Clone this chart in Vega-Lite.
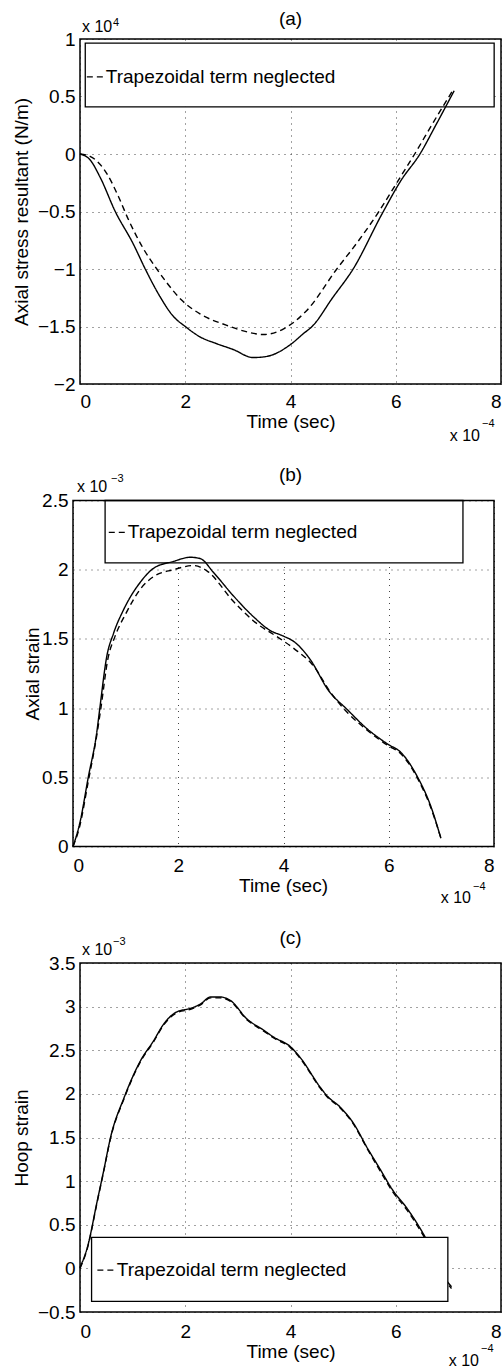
{
  "$schema": "https://vega.github.io/schema/vega-lite/v6.json",
  "background": "white",
  "padding": {"left": 12, "top": 10, "right": 0, "bottom": 0},
  "bounds": "flush",
  "spacing": 116.5,
  "config": {
    "font": "Liberation Sans",
    "view": {"stroke": null},
    "axis": {
      "labelFont": "Liberation Sans", "labelFontSize": 19, "labelColor": "#000",
      "titleFont": "Liberation Sans", "titleFontSize": 19, "titleFontWeight": "normal", "titleColor": "#000",
      "domain": false, "ticks": false, "grid": true,
      "gridColor": "#444", "gridDash": [1, 5], "gridWidth": 1, "gridOpacity": 1
    },
    "axisX": {"labelPadding": 10, "titleBaseline": "alphabetic"},
    "axisY": {"labelPadding": 5, "titleBaseline": "middle"},
    "title": {"font": "Liberation Sans", "fontSize": 19, "fontWeight": "normal", "color": "#000", "offset": -12},
    "text": {"font": "Liberation Sans", "color": "#000"},
    "line": {"interpolate": "monotone"}
  },
  "vconcat": [
    {
      "width": 421, "height": 345,
      "title": {"text": "(a)"},
      "layer": [
        {
          "data": {"values": [{"label": "Trapezoidal term neglected"}]},
          "mark": {"type": "rect", "fill": "white", "stroke": "#000", "strokeWidth": 1.3},
          "encoding": {
            "x": {"datum": 0.1, "type": "quantitative", "scale": {"domain": [0, 8], "nice": false}},
            "x2": {"datum": 7.87},
            "y": {"datum": 0.41, "type": "quantitative", "scale": {"domain": [-2, 1], "nice": false}},
            "y2": {"datum": 0.965}
          }
        },
        {
          "data": {"values": [{"label": "Trapezoidal term neglected"}]},
          "mark": {"type": "rule", "stroke": "#000", "strokeWidth": 1.3, "strokeDash": [6, 4]},
          "encoding": {"x": {"datum": 0.13}, "x2": {"datum": 0.47}, "y": {"datum": 0.67}}
        },
        {
          "data": {"values": [{"label": "Trapezoidal term neglected"}]},
          "mark": {"type": "text", "align": "left", "baseline": "middle", "fontSize": 19},
          "encoding": {"x": {"datum": 0.49}, "y": {"datum": 0.67}, "text": {"field": "label"}}
        },
        {
          "data": {"values": [
            {"series": "Full", "t": 0, "v": 0}, {"series": "Full", "t": 0.19, "v": -0.05}, {"series": "Full", "t": 0.38, "v": -0.2},
            {"series": "Full", "t": 0.67, "v": -0.5}, {"series": "Full", "t": 1.01, "v": -0.78}, {"series": "Full", "t": 1.24, "v": -1.0},
            {"series": "Full", "t": 1.52, "v": -1.24}, {"series": "Full", "t": 1.77, "v": -1.41}, {"series": "Full", "t": 2.0, "v": -1.5},
            {"series": "Full", "t": 2.28, "v": -1.59}, {"series": "Full", "t": 2.6, "v": -1.65}, {"series": "Full", "t": 2.91, "v": -1.7},
            {"series": "Full", "t": 3.29, "v": -1.77}, {"series": "Full", "t": 3.55, "v": -1.76}, {"series": "Full", "t": 3.99, "v": -1.66},
            {"series": "Full", "t": 4.25, "v": -1.56}, {"series": "Full", "t": 4.41, "v": -1.5}, {"series": "Full", "t": 4.8, "v": -1.25},
            {"series": "Full", "t": 5.19, "v": -1.0}, {"series": "Full", "t": 5.74, "v": -0.52}, {"series": "Full", "t": 6.1, "v": -0.23},
            {"series": "Full", "t": 6.46, "v": 0.0}, {"series": "Full", "t": 6.76, "v": 0.25}, {"series": "Full", "t": 7.11, "v": 0.55},
            {"series": "Trapezoidal term neglected", "t": 0, "v": 0}, {"series": "Trapezoidal term neglected", "t": 0.19, "v": -0.02},
            {"series": "Trapezoidal term neglected", "t": 0.51, "v": -0.17}, {"series": "Trapezoidal term neglected", "t": 0.73, "v": -0.37},
            {"series": "Trapezoidal term neglected", "t": 0.92, "v": -0.57}, {"series": "Trapezoidal term neglected", "t": 1.2, "v": -0.82},
            {"series": "Trapezoidal term neglected", "t": 1.46, "v": -1.0}, {"series": "Trapezoidal term neglected", "t": 1.65, "v": -1.12},
            {"series": "Trapezoidal term neglected", "t": 1.93, "v": -1.27}, {"series": "Trapezoidal term neglected", "t": 2.28, "v": -1.39},
            {"series": "Trapezoidal term neglected", "t": 2.79, "v": -1.49}, {"series": "Trapezoidal term neglected", "t": 3.2, "v": -1.55},
            {"series": "Trapezoidal term neglected", "t": 3.49, "v": -1.57}, {"series": "Trapezoidal term neglected", "t": 3.87, "v": -1.52},
            {"series": "Trapezoidal term neglected", "t": 4.31, "v": -1.36}, {"series": "Trapezoidal term neglected", "t": 4.88, "v": -1.0},
            {"series": "Trapezoidal term neglected", "t": 5.3, "v": -0.75}, {"series": "Trapezoidal term neglected", "t": 5.68, "v": -0.5},
            {"series": "Trapezoidal term neglected", "t": 6.02, "v": -0.25}, {"series": "Trapezoidal term neglected", "t": 6.36, "v": 0.0},
            {"series": "Trapezoidal term neglected", "t": 6.72, "v": 0.28}, {"series": "Trapezoidal term neglected", "t": 7.08, "v": 0.55}
          ]},
          "mark": {"type": "line", "color": "#000", "strokeWidth": 1.4},
          "encoding": {
            "x": {"field": "t", "type": "quantitative", "scale": {"domain": [0, 8], "nice": false},
                  "axis": {"values": [0, 2, 4, 6, 8], "title": "Time (sec)", "titleY": 43, "labelPadding": 8}},
            "y": {"field": "v", "type": "quantitative", "scale": {"domain": [-2, 1], "nice": false},
                  "axis": {"values": [-2, -1.5, -1, -0.5, 0, 0.5, 1], "format": "~g", "title": "Axial stress resultant (N/m)", "titleX": -59}},
            "strokeDash": {"field": "series", "type": "nominal", "scale": {"domain": ["Full", "Trapezoidal term neglected"], "range": [[1, 0], [6, 4]]}, "legend": null}
          }
        },
        {
          "data": {"values": [{"frame": "box"}]},
          "mark": {"type": "rect", "fill": null, "stroke": "#000", "strokeWidth": 1.5},
          "encoding": {"x": {"datum": 0}, "x2": {"datum": 8}, "y": {"datum": -2}, "y2": {"datum": 1}}
        },
        {
          "data": {"values": [{"s": "x 10"}]},
          "mark": {"type": "text", "align": "left", "baseline": "alphabetic", "fontSize": 16, "dx": 2, "dy": -7},
          "encoding": {"x": {"datum": 0}, "y": {"datum": 1}, "text": {"field": "s"}}
        },
        {
          "data": {"values": [{"s": "4"}]},
          "mark": {"type": "text", "align": "left", "baseline": "alphabetic", "fontSize": 11, "dx": 33, "dy": -13},
          "encoding": {"x": {"datum": 0}, "y": {"datum": 1}, "text": {"field": "s"}}
        },
        {
          "data": {"values": [{"s": "x 10"}]},
          "mark": {"type": "text", "align": "right", "baseline": "alphabetic", "fontSize": 16, "dx": -21, "dy": 57},
          "encoding": {"x": {"datum": 8}, "y": {"datum": -2}, "text": {"field": "s"}}
        },
        {
          "data": {"values": [{"s": "−4"}]},
          "mark": {"type": "text", "align": "left", "baseline": "alphabetic", "fontSize": 11, "dx": -19, "dy": 43},
          "encoding": {"x": {"datum": 8}, "y": {"datum": -2}, "text": {"field": "s"}}
        }
      ]
    },
    {
      "width": 421, "height": 346,
      "title": {"text": "(b)"},
      "layer": [
        {
          "data": {"values": [{"label": "Trapezoidal term neglected"}]},
          "mark": {"type": "rect", "fill": "white", "stroke": "#000", "strokeWidth": 1.3},
          "encoding": {
            "x": {"datum": 0.61, "type": "quantitative", "scale": {"domain": [0, 8], "nice": false, "range": [-7, 414]}},
            "x2": {"datum": 7.41},
            "y": {"datum": 2.05, "type": "quantitative", "scale": {"domain": [0, 2.5], "nice": false}},
            "y2": {"datum": 2.5}
          }
        },
        {
          "data": {"values": [{"label": "Trapezoidal term neglected"}]},
          "mark": {"type": "rule", "stroke": "#000", "strokeWidth": 1.3, "strokeDash": [6, 4]},
          "encoding": {"x": {"datum": 0.68}, "x2": {"datum": 1.02}, "y": {"datum": 2.27}}
        },
        {
          "data": {"values": [{"label": "Trapezoidal term neglected"}]},
          "mark": {"type": "text", "align": "left", "baseline": "middle", "fontSize": 19},
          "encoding": {"x": {"datum": 1.04}, "y": {"datum": 2.27}, "text": {"field": "label"}}
        },
        {
          "data": {"values": [
            {"series": "Full", "t": 0, "v": 0}, {"series": "Full", "t": 0.13, "v": 0.17}, {"series": "Full", "t": 0.29, "v": 0.5},
            {"series": "Full", "t": 0.45, "v": 0.82}, {"series": "Full", "t": 0.51, "v": 1.0}, {"series": "Full", "t": 0.64, "v": 1.37},
            {"series": "Full", "t": 0.77, "v": 1.54}, {"series": "Full", "t": 0.96, "v": 1.71}, {"series": "Full", "t": 1.28, "v": 1.91},
            {"series": "Full", "t": 1.53, "v": 2.01}, {"series": "Full", "t": 1.91, "v": 2.06}, {"series": "Full", "t": 2.23, "v": 2.09},
            {"series": "Full", "t": 2.42, "v": 2.08}, {"series": "Full", "t": 2.67, "v": 1.98}, {"series": "Full", "t": 3.05, "v": 1.81},
            {"series": "Full", "t": 3.43, "v": 1.66}, {"series": "Full", "t": 3.75, "v": 1.56}, {"series": "Full", "t": 4.0, "v": 1.52},
            {"series": "Full", "t": 4.2, "v": 1.48}, {"series": "Full", "t": 4.51, "v": 1.35}, {"series": "Full", "t": 4.85, "v": 1.13},
            {"series": "Full", "t": 5.21, "v": 0.99}, {"series": "Full", "t": 5.59, "v": 0.85}, {"series": "Full", "t": 5.98, "v": 0.74},
            {"series": "Full", "t": 6.23, "v": 0.68}, {"series": "Full", "t": 6.55, "v": 0.5}, {"series": "Full", "t": 6.8, "v": 0.29},
            {"series": "Full", "t": 6.99, "v": 0.06},
            {"series": "Trapezoidal term neglected", "t": 0, "v": 0}, {"series": "Trapezoidal term neglected", "t": 0.13, "v": 0.15},
            {"series": "Trapezoidal term neglected", "t": 0.29, "v": 0.47}, {"series": "Trapezoidal term neglected", "t": 0.45, "v": 0.8},
            {"series": "Trapezoidal term neglected", "t": 0.53, "v": 1.0}, {"series": "Trapezoidal term neglected", "t": 0.66, "v": 1.35},
            {"series": "Trapezoidal term neglected", "t": 0.8, "v": 1.52}, {"series": "Trapezoidal term neglected", "t": 1.0, "v": 1.68},
            {"series": "Trapezoidal term neglected", "t": 1.28, "v": 1.86}, {"series": "Trapezoidal term neglected", "t": 1.53, "v": 1.95},
            {"series": "Trapezoidal term neglected", "t": 1.91, "v": 2.0}, {"series": "Trapezoidal term neglected", "t": 2.29, "v": 2.03},
            {"series": "Trapezoidal term neglected", "t": 2.55, "v": 1.99}, {"series": "Trapezoidal term neglected", "t": 3.05, "v": 1.77},
            {"series": "Trapezoidal term neglected", "t": 3.43, "v": 1.63}, {"series": "Trapezoidal term neglected", "t": 3.94, "v": 1.5},
            {"series": "Trapezoidal term neglected", "t": 4.2, "v": 1.43}, {"series": "Trapezoidal term neglected", "t": 4.58, "v": 1.3},
            {"series": "Trapezoidal term neglected", "t": 4.9, "v": 1.11}, {"series": "Trapezoidal term neglected", "t": 5.21, "v": 0.97},
            {"series": "Trapezoidal term neglected", "t": 5.59, "v": 0.84}, {"series": "Trapezoidal term neglected", "t": 5.98, "v": 0.73},
            {"series": "Trapezoidal term neglected", "t": 6.23, "v": 0.67}, {"series": "Trapezoidal term neglected", "t": 6.55, "v": 0.49},
            {"series": "Trapezoidal term neglected", "t": 6.8, "v": 0.28}, {"series": "Trapezoidal term neglected", "t": 7.0, "v": 0.05}
          ]},
          "mark": {"type": "line", "color": "#000", "strokeWidth": 1.4},
          "encoding": {
            "x": {"field": "t", "type": "quantitative", "scale": {"domain": [0, 8], "nice": false, "range": [-7, 414]},
                  "axis": {"values": [0, 2, 4, 6, 8], "title": "Time (sec)", "titleY": 45, "titleX": 203}},
            "y": {"field": "v", "type": "quantitative", "scale": {"domain": [0, 2.5], "nice": false},
                  "axis": {"values": [0, 0.5, 1, 1.5, 2, 2.5], "format": "~g", "title": "Axial strain", "titleX": -41, "offset": 7}},
            "strokeDash": {"field": "series", "type": "nominal", "scale": {"domain": ["Full", "Trapezoidal term neglected"], "range": [[1, 0], [6, 4]]}, "legend": null}
          }
        },
        {
          "data": {"values": [{"frame": "box"}]},
          "mark": {"type": "rect", "fill": null, "stroke": "#000", "strokeWidth": 1.5},
          "encoding": {"x": {"datum": 0}, "x2": {"datum": 8}, "y": {"datum": 0}, "y2": {"datum": 2.5}}
        },
        {
          "data": {"values": [{"s": "x 10"}]},
          "mark": {"type": "text", "align": "left", "baseline": "alphabetic", "fontSize": 16, "dx": 4, "dy": -9},
          "encoding": {"x": {"datum": 0}, "y": {"datum": 2.5}, "text": {"field": "s"}}
        },
        {
          "data": {"values": [{"s": "−3"}]},
          "mark": {"type": "text", "align": "left", "baseline": "alphabetic", "fontSize": 11, "dx": 38, "dy": -19},
          "encoding": {"x": {"datum": 0}, "y": {"datum": 2.5}, "text": {"field": "s"}}
        },
        {
          "data": {"values": [{"s": "x 10"}]},
          "mark": {"type": "text", "align": "right", "baseline": "alphabetic", "fontSize": 16, "dx": -23, "dy": 56},
          "encoding": {"x": {"datum": 8}, "y": {"datum": 0}, "text": {"field": "s"}}
        },
        {
          "data": {"values": [{"s": "−4"}]},
          "mark": {"type": "text", "align": "left", "baseline": "alphabetic", "fontSize": 11, "dx": -21, "dy": 43},
          "encoding": {"x": {"datum": 8}, "y": {"datum": 0}, "text": {"field": "s"}}
        }
      ]
    },
    {
      "width": 421, "height": 349,
      "title": {"text": "(c)"},
      "layer": [
        {
          "data": {"values": [
            {"series": "Full", "t": 0, "v": 0.01}, {"series": "Full", "t": 0.14, "v": 0.24}, {"series": "Full", "t": 0.33, "v": 0.78},
            {"series": "Full", "t": 0.45, "v": 1.12}, {"series": "Full", "t": 0.58, "v": 1.5}, {"series": "Full", "t": 0.84, "v": 1.96},
            {"series": "Full", "t": 1.15, "v": 2.38}, {"series": "Full", "t": 1.4, "v": 2.61}, {"series": "Full", "t": 1.59, "v": 2.8},
            {"series": "Full", "t": 1.84, "v": 2.94}, {"series": "Full", "t": 2.1, "v": 2.98}, {"series": "Full", "t": 2.29, "v": 3.03},
            {"series": "Full", "t": 2.48, "v": 3.11}, {"series": "Full", "t": 2.67, "v": 3.11}, {"series": "Full", "t": 2.86, "v": 3.07},
            {"series": "Full", "t": 3.17, "v": 2.86}, {"series": "Full", "t": 3.49, "v": 2.73}, {"series": "Full", "t": 3.68, "v": 2.65},
            {"series": "Full", "t": 4.0, "v": 2.54}, {"series": "Full", "t": 4.18, "v": 2.42}, {"series": "Full", "t": 4.56, "v": 2.08},
            {"series": "Full", "t": 4.69, "v": 1.98}, {"series": "Full", "t": 4.94, "v": 1.85}, {"series": "Full", "t": 5.2, "v": 1.66},
            {"series": "Full", "t": 5.45, "v": 1.39}, {"series": "Full", "t": 5.7, "v": 1.14}, {"series": "Full", "t": 5.95, "v": 0.89},
            {"series": "Full", "t": 6.2, "v": 0.7}, {"series": "Full", "t": 6.52, "v": 0.4}, {"series": "Full", "t": 6.7, "v": 0.2},
            {"series": "Full", "t": 6.85, "v": 0.02}, {"series": "Full", "t": 6.97, "v": -0.14}, {"series": "Full", "t": 7.06, "v": -0.21},
            {"series": "Trapezoidal term neglected", "t": 0, "v": 0.0}, {"series": "Trapezoidal term neglected", "t": 0.14, "v": 0.23},
            {"series": "Trapezoidal term neglected", "t": 0.33, "v": 0.77}, {"series": "Trapezoidal term neglected", "t": 0.45, "v": 1.11},
            {"series": "Trapezoidal term neglected", "t": 0.58, "v": 1.49}, {"series": "Trapezoidal term neglected", "t": 0.84, "v": 1.95},
            {"series": "Trapezoidal term neglected", "t": 1.15, "v": 2.37}, {"series": "Trapezoidal term neglected", "t": 1.4, "v": 2.6},
            {"series": "Trapezoidal term neglected", "t": 1.59, "v": 2.79}, {"series": "Trapezoidal term neglected", "t": 1.84, "v": 2.93},
            {"series": "Trapezoidal term neglected", "t": 2.1, "v": 2.97}, {"series": "Trapezoidal term neglected", "t": 2.29, "v": 3.02},
            {"series": "Trapezoidal term neglected", "t": 2.48, "v": 3.1}, {"series": "Trapezoidal term neglected", "t": 2.67, "v": 3.1},
            {"series": "Trapezoidal term neglected", "t": 2.86, "v": 3.06}, {"series": "Trapezoidal term neglected", "t": 3.17, "v": 2.85},
            {"series": "Trapezoidal term neglected", "t": 3.49, "v": 2.72}, {"series": "Trapezoidal term neglected", "t": 3.68, "v": 2.64},
            {"series": "Trapezoidal term neglected", "t": 4.0, "v": 2.53}, {"series": "Trapezoidal term neglected", "t": 4.18, "v": 2.41},
            {"series": "Trapezoidal term neglected", "t": 4.56, "v": 2.07}, {"series": "Trapezoidal term neglected", "t": 4.69, "v": 1.97},
            {"series": "Trapezoidal term neglected", "t": 4.94, "v": 1.84}, {"series": "Trapezoidal term neglected", "t": 5.2, "v": 1.65},
            {"series": "Trapezoidal term neglected", "t": 5.45, "v": 1.38}, {"series": "Trapezoidal term neglected", "t": 5.7, "v": 1.12},
            {"series": "Trapezoidal term neglected", "t": 5.95, "v": 0.87}, {"series": "Trapezoidal term neglected", "t": 6.2, "v": 0.68},
            {"series": "Trapezoidal term neglected", "t": 6.52, "v": 0.38}, {"series": "Trapezoidal term neglected", "t": 6.7, "v": 0.18},
            {"series": "Trapezoidal term neglected", "t": 6.85, "v": 0.0}, {"series": "Trapezoidal term neglected", "t": 6.97, "v": -0.16},
            {"series": "Trapezoidal term neglected", "t": 7.06, "v": -0.23}
          ]},
          "mark": {"type": "line", "color": "#000", "strokeWidth": 1.4},
          "encoding": {
            "x": {"field": "t", "type": "quantitative", "scale": {"domain": [0, 8], "nice": false},
                  "axis": {"values": [0, 2, 4, 6, 8], "title": "Time (sec)", "titleY": 45}},
            "y": {"field": "v", "type": "quantitative", "scale": {"domain": [-0.5, 3.5], "nice": false},
                  "axis": {"values": [-0.5, 0, 0.5, 1, 1.5, 2, 2.5, 3, 3.5], "format": "~g", "title": "Hoop strain", "titleX": -59}},
            "strokeDash": {"field": "series", "type": "nominal", "scale": {"domain": ["Full", "Trapezoidal term neglected"], "range": [[1, 0], [6, 4]]}, "legend": null}
          }
        },
        {
          "data": {"values": [{"label": "Trapezoidal term neglected"}]},
          "mark": {"type": "rect", "fill": "white", "stroke": "#000", "strokeWidth": 1.3},
          "encoding": {"x": {"datum": 0.22}, "x2": {"datum": 6.99}, "y": {"datum": -0.378}, "y2": {"datum": 0.355}}
        },
        {
          "data": {"values": [{"label": "Trapezoidal term neglected"}]},
          "mark": {"type": "rule", "stroke": "#000", "strokeWidth": 1.3, "strokeDash": [6, 4]},
          "encoding": {"x": {"datum": 0.33}, "x2": {"datum": 0.67}, "y": {"datum": -0.02}}
        },
        {
          "data": {"values": [{"label": "Trapezoidal term neglected"}]},
          "mark": {"type": "text", "align": "left", "baseline": "middle", "fontSize": 19},
          "encoding": {"x": {"datum": 0.7}, "y": {"datum": -0.02}, "text": {"field": "label"}}
        },
        {
          "data": {"values": [{"frame": "box"}]},
          "mark": {"type": "rect", "fill": null, "stroke": "#000", "strokeWidth": 1.5},
          "encoding": {"x": {"datum": 0}, "x2": {"datum": 8}, "y": {"datum": -0.5}, "y2": {"datum": 3.5}}
        },
        {
          "data": {"values": [{"s": "x 10"}]},
          "mark": {"type": "text", "align": "left", "baseline": "alphabetic", "fontSize": 16, "dx": 2, "dy": -8},
          "encoding": {"x": {"datum": 0}, "y": {"datum": 3.5}, "text": {"field": "s"}}
        },
        {
          "data": {"values": [{"s": "−3"}]},
          "mark": {"type": "text", "align": "left", "baseline": "alphabetic", "fontSize": 11, "dx": 33, "dy": -18},
          "encoding": {"x": {"datum": 0}, "y": {"datum": 3.5}, "text": {"field": "s"}}
        },
        {
          "data": {"values": [{"s": "x 10"}]},
          "mark": {"type": "text", "align": "right", "baseline": "alphabetic", "fontSize": 16, "dx": -22, "dy": 54},
          "encoding": {"x": {"datum": 8}, "y": {"datum": -0.5}, "text": {"field": "s"}}
        },
        {
          "data": {"values": [{"s": "−4"}]},
          "mark": {"type": "text", "align": "left", "baseline": "alphabetic", "fontSize": 11, "dx": -20, "dy": 40},
          "encoding": {"x": {"datum": 8}, "y": {"datum": -0.5}, "text": {"field": "s"}}
        }
      ]
    }
  ]
}
